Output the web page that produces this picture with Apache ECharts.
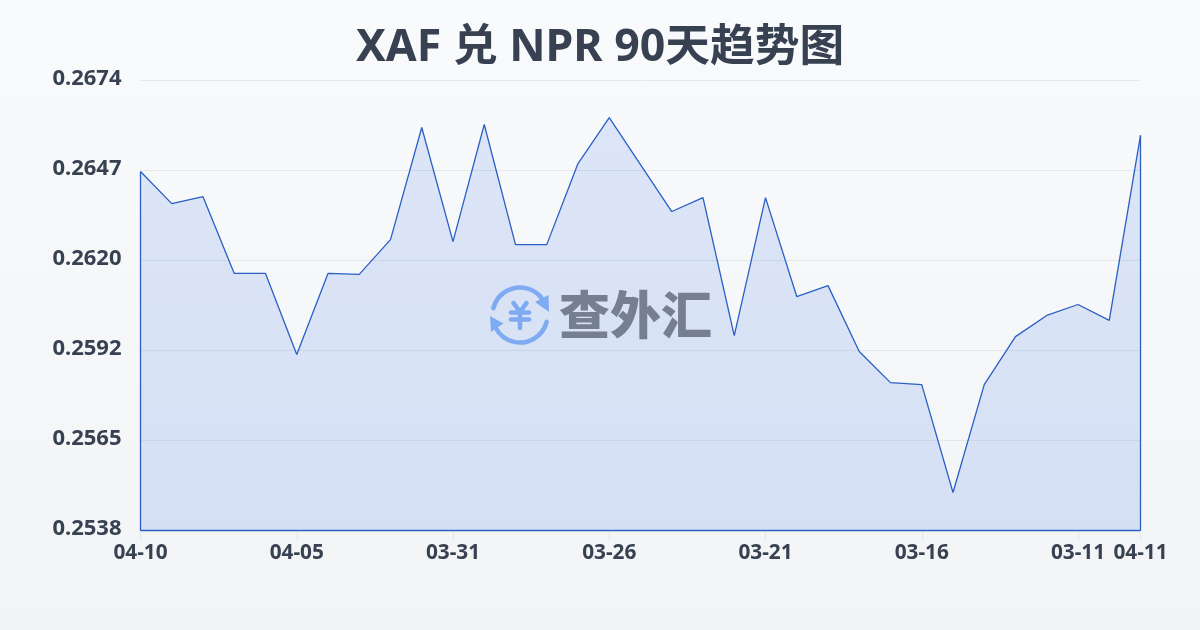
<!DOCTYPE html>
<html><head><meta charset="utf-8">
<style>html,body{margin:0;padding:0;background:#f6f7f9}#c{width:1200px;height:630px}</style>
<script src="https://cdn.jsdelivr.net/npm/echarts@6/dist/echarts.min.js"></script>
</head><body><div id="c"></div>
<script>
const titleText = 'XAF 兑 NPR 90天趋势图';
const dates = ['04-10','04-09','04-08','04-07','04-06','04-05','04-04','04-03','04-02','04-01','03-31','03-30','03-29','03-28','03-27','03-26','03-25','03-24','03-23','03-22','03-21','03-20','03-19','03-18','03-17','03-16','03-15','03-14','03-13','03-12','03-11','03-10','04-11'];
const rates = [0.26465,0.26368,0.26389,0.26157,0.26157,0.25912,0.26157,0.26154,0.26259,0.26598,0.26253,0.26607,0.26244,0.26244,0.26489,0.26628,0.26486,0.26344,0.26386,0.25969,0.26386,0.26087,0.26120,0.25921,0.25827,0.25821,0.25495,0.25821,0.25966,0.26030,0.26063,0.26015,0.26574];
const yTicks = [0.2538,0.25652,0.25924,0.26196,0.26468,0.2674];
const yMin = yTicks[0], yMax = yTicks[yTicks.length-1];
const lastIdx = dates.length-1;
const LINE = '#2a5fc4', TXT = '#374151', ICON = '#8db6f5';
const chart = echarts.init(document.getElementById('c'),null,{renderer:'canvas'});
const F = '"Noto Sans","Noto Sans CJK SC",sans-serif';
const edge = (a,b)=>[{coord:a},{coord:b}];
const stroke = {stroke:ICON,lineWidth:4.6,fill:'none',lineCap:'round',lineJoin:'round'};
chart.setOption({
  animation:false,
  backgroundColor:new echarts.graphic.LinearGradient(0,0,0,1,[{offset:0,color:'#f9fafc'},{offset:1,color:'#f3f4f6'}]),
  title:{text:titleText,left:'center',top:21,textStyle:{fontFamily:F,fontWeight:700,fontSize:44.7,color:TXT}},
  grid:{left:140.5,right:59.5,top:80.5,bottom:99.5},
  xAxis:{type:'category',boundaryGap:false,data:dates,
    axisLine:{show:false},
    axisTick:{show:true,length:10,lineStyle:{color:'#e5e7eb'},interval:(i)=>i%5===0||i===lastIdx},
    splitLine:{show:false},
    axisLabel:{interval:0,hideOverlap:false,margin:12,fontFamily:F,fontWeight:700,fontSize:20.8,color:TXT,
      formatter:(v,i)=>(i%5===0||i===lastIdx)?v:''}},
  yAxis:{type:'value',min:yMin,max:yMax,
    axisLine:{show:false},
    axisTick:{show:false,customValues:yTicks},
    splitLine:{show:true,lineStyle:{color:'#e5e7eb',width:1}},
    axisLabel:{customValues:yTicks,margin:19,verticalAlign:'bottom',lineHeight:4,fontFamily:F,fontWeight:700,fontSize:22,color:TXT,formatter:v=>v.toFixed(4)}},
  series:[{type:'line',data:rates,symbol:'none',smooth:false,
    lineStyle:{color:LINE,width:1.3},
    areaStyle:{origin:'start',opacity:1,color:new echarts.graphic.LinearGradient(0,0,0,1,[{offset:0,color:'rgba(37,99,225,0.13)'},{offset:1,color:'rgba(37,99,225,0.145)'}])},
    markLine:{silent:true,symbol:'none',label:{show:false},animation:false,
      lineStyle:{color:LINE,width:1.3,type:'solid'},
      data:[edge([0,yMin],[0,rates[0]]),edge([lastIdx,yMin],[lastIdx,rates[lastIdx]]),edge([0,yMin],[lastIdx,yMin])]}}],
  graphic:{elements:[
    {type:'group',left:490,top:285,silent:true,z:10,children:[
      {type:'arc',shape:{cx:30,cy:30,r:27.5,startAngle:Math.PI*1.08,endAngle:Math.PI*1.78},style:stroke},
      {type:'arc',shape:{cx:30,cy:30,r:27.5,startAngle:Math.PI*0.08,endAngle:Math.PI*0.84},style:stroke},
      {type:'polygon',shape:{points:[[45,17],[58.5,10],[59,27]]},style:{fill:ICON}},
      {type:'polygon',shape:{points:[[0,31],[13.5,38.5],[1,47]]},style:{fill:ICON}},
      {type:'polyline',shape:{points:[[23.5,18],[30,27],[36.5,18]]},style:stroke},
      {type:'line',shape:{x1:21,y1:27.5,x2:39,y2:27.5},style:stroke},
      {type:'line',shape:{x1:21,y1:34.5,x2:39,y2:34.5},style:stroke},
      {type:'line',shape:{x1:30,y1:27,x2:30,y2:43},style:stroke}
    ]},
    {type:'text',left:559,top:289,silent:true,z:10,style:{text:'查外汇',font:'900 51px "Noto Sans CJK SC"',fill:'#767f8f'}}
  ]}
});
</script></body></html>
